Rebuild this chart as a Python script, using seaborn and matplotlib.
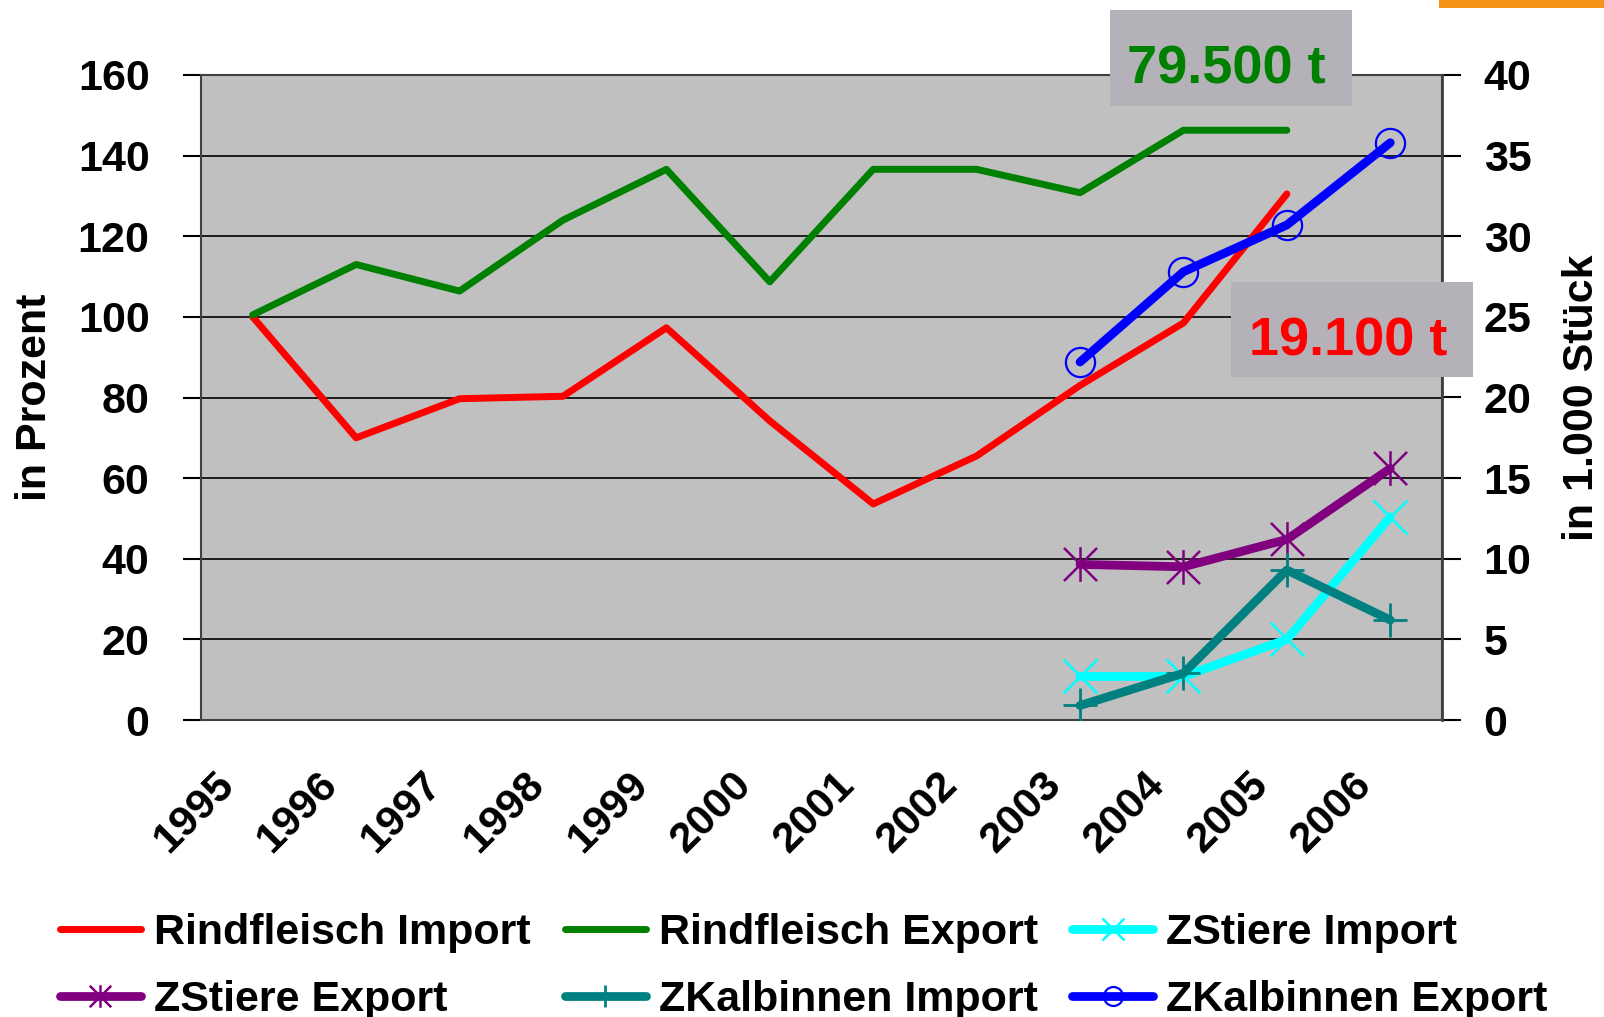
import numpy as np
import pandas as pd
import matplotlib
matplotlib.use("Agg")
import matplotlib.pyplot as plt
from matplotlib.patches import Rectangle
from matplotlib.path import Path
import matplotlib.transforms as mtransforms
import seaborn as sns

# ---------------- data ----------------
years = ["1995", "1996", "1997", "1998", "1999", "2000",
         "2001", "2002", "2003", "2004", "2005", "2006"]
rind_import = [100, 70, 79.7, 80.3, 97.3, 74.2, 53.6, 65.5, 83, 98.5, 130.5, np.nan]
rind_export = [100.5, 113, 106.4, 124, 136.6, 108.7, 136.6, 136.6, 130.8, 146.3, 146.3, np.nan]
# secondary axis (in 1.000 Stück), 2003-2006
z_years = ["2003", "2004", "2005", "2006"]
zstiere_import = [2.7, 2.7, 5.0, 12.6]
zstiere_export = [9.65, 9.5, 11.2, 15.6]
zkalb_import = [0.9, 2.9, 9.3, 6.2]
zkalb_export = [22.2, 27.8, 30.7, 35.8]
left_ticks = [0, 20, 40, 60, 80, 100, 120, 140, 160]
right_ticks = [0, 5, 10, 15, 20, 25, 30, 35, 40]
ann_export = "79.500 t"
ann_import = "19.100 t"

# ---------------- style ----------------
sns.set_style("white")
plt.rcParams["font.family"] = ["Liberation Sans", "DejaVu Sans"]
plt.rcParams["font.weight"] = "bold"
for k in ["text.color", "axes.labelcolor", "xtick.color", "ytick.color"]:
    plt.rcParams[k] = "black"

W, H = 1604, 1017
fig = plt.figure(figsize=(W / 100, H / 100), dpi=100)
L, R, T, B = 201, 1442, 75, 720
ax = fig.add_axes([L / W, 1 - B / H, (R - L) / W, (B - T) / H])
ax.set_facecolor("#C0C0C0")
ax2 = ax.twinx()

xpos = {y: i for i, y in enumerate(years)}
x_all = np.arange(len(years))
x_z = np.array([xpos[y] for y in z_years])

# Excel-like asterisk marker: an "x" plus a vertical bar
asterisk = Path([(-1, -1), (1, 1), (-1, 1), (1, -1), (0, -1.05), (0, 1.05)],
                [Path.MOVETO, Path.LINETO, Path.MOVETO, Path.LINETO, Path.MOVETO, Path.LINETO])

lw_main = 5.0
lw_z = 6.3
sns.lineplot(x=x_all, y=rind_import, ax=ax, color="#FF0000", lw=lw_main,
             label="Rindfleisch Import", legend=False, zorder=3)
sns.lineplot(x=x_all, y=rind_export, ax=ax, color="#008000", lw=lw_main,
             label="Rindfleisch Export", legend=False, zorder=3)

sns.lineplot(x=x_z, y=zstiere_import, ax=ax2, color="#00FFFF", lw=lw_z,
             marker="x", markersize=25, markeredgecolor="#00FFFF", markeredgewidth=1.8,
             label="ZStiere Import", legend=False, zorder=3)
sns.lineplot(x=x_z, y=zstiere_export, ax=ax2, color="#800080", lw=lw_z,
             marker=asterisk, markersize=25, markeredgecolor="#800080", markeredgewidth=1.8,
             label="ZStiere Export", legend=False, zorder=3)
sns.lineplot(x=x_z, y=zkalb_import, ax=ax2, color="#008080", lw=lw_z,
             marker="+", markersize=25, markeredgecolor="#008080", markeredgewidth=2.0,
             label="ZKalbinnen Import", legend=False, zorder=4)
sns.lineplot(x=x_z, y=zkalb_export, ax=ax2, color="#0000FF", lw=lw_z,
             marker="o", markersize=21, markerfacecolor="none", markeredgecolor="#0000FF",
             markeredgewidth=1.6, label="ZKalbinnen Export", legend=False, zorder=4)

# ---------------- axes ----------------
ax.set_xlim(-0.5, len(years) - 0.5)
ax.set_ylim(0, 160)
ax2.set_ylim(0, 40)
ax.set_yticks(left_ticks)
ax2.set_yticks(right_ticks)
ax.set_xticks(x_all)
ax.set_xticklabels(years, rotation=45, ha="right", va="baseline", rotation_mode="anchor")
ax.set_xticks(np.arange(-0.5, len(years), 1.0), minor=True)
ax.tick_params(axis="x", which="major", length=0, pad=48, labelsize=31)
ax.tick_params(axis="x", which="minor", length=13, width=1.5, color="black", direction="out")
ax.tick_params(axis="y", length=13, width=1.5, color="black", direction="out", pad=24, labelsize=31)
ax2.tick_params(axis="y", length=14, width=1.5, color="black", direction="out", pad=16, labelsize=31)
shift = mtransforms.ScaledTranslation(-17 / 100, 0, fig.dpi_scale_trans)
for lab in ax.get_xticklabels():
    lab.set_transform(lab.get_transform() + shift)
for lab in ax.get_xticklabels() + ax.get_yticklabels() + ax2.get_yticklabels():
    lab.set_fontweight("bold")

ax.yaxis.grid(True, color="black", lw=1.2)
ax.xaxis.grid(False)
ax.set_axisbelow(True)
for sp in ["left", "bottom", "right", "top"]:
    ax.spines[sp].set_visible(True)
    ax.spines[sp].set_color("#404040")
    ax.spines[sp].set_linewidth(1.5)
    ax2.spines[sp].set_visible(False)
ax2.spines["right"].set_visible(True)
ax2.spines["right"].set_color("#404040")
ax2.spines["right"].set_linewidth(2.0)
ax2.grid(False)

ax.set_ylabel("in Prozent", fontsize=31, fontweight="bold")
ax.yaxis.set_label_coords(-0.118, 0.5)
ax2.set_ylabel("in 1.000 Stück", fontsize=31, fontweight="bold", rotation=90)
ax2.yaxis.set_label_coords(1.0965, 0.5)
ax.set_xlabel("")

# ---------------- annotations ----------------
box_col = "#B4B2B8"
def fig_rect(x0, y0, x1, y1, color):
    fig.patches.append(Rectangle((x0 / W, 1 - y1 / H), (x1 - x0) / W, (y1 - y0) / H,
                                 transform=fig.transFigure, facecolor=color,
                                 edgecolor="none", zorder=10))

fig_rect(1110, 10, 1352, 106, box_col)
fig_rect(1231, 282, 1473, 377, box_col)
fig_rect(1439, 0, 1604, 8, "#F39318")
fig.text(1226 / W, 1 - 83 / H, ann_export, color="#008000", fontsize=39, fontweight="bold",
         ha="center", va="baseline", zorder=11)
fig.text(1348 / W, 1 - 355 / H, ann_import, color="#FF0000", fontsize=39, fontweight="bold",
         ha="center", va="baseline", zorder=11)

# ---------------- legend ----------------
h1, l1 = ax.get_legend_handles_labels()
h2, l2 = ax2.get_legend_handles_labels()
hd = dict(zip(l1 + l2, h1 + h2))
order = ["Rindfleisch Import", "ZStiere Export", "Rindfleisch Export",
         "ZKalbinnen Import", "ZStiere Import", "ZKalbinnen Export"]
leg = fig.legend([hd[k] for k in order], order, ncol=3, loc="upper left",
                 bbox_to_anchor=(60 / W, 1 - 913 / H), frameon=False,
                 prop={"size": 31, "weight": "bold"}, handlelength=1.88,
                 handletextpad=0.3, columnspacing=0.8, labelspacing=0.62,
                 markerscale=0.65, borderpad=0, borderaxespad=0)

fig.savefig("out.png", dpi=100)
